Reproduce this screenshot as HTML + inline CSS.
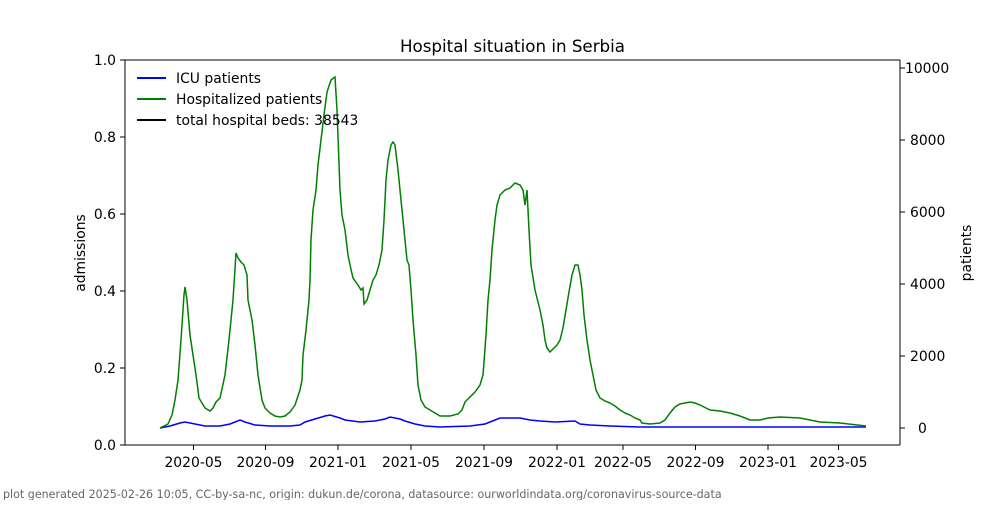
<!DOCTYPE html>
<html><head><meta charset="utf-8"><style>
body{margin:0;background:#fff}
svg text{font-family:"DejaVu Sans","Liberation Sans",sans-serif;fill:#000}
</style></head><body>
<svg width="1000" height="500" viewBox="0 0 1000 500" xmlns="http://www.w3.org/2000/svg">
<rect width="1000" height="500" fill="#fff"/>
<text x="512.5" y="52" font-size="16.7" text-anchor="middle">Hospital situation in Serbia</text>
<g stroke="#000" stroke-width="1">
<line x1="125" y1="445" x2="125" y2="60"/><line x1="900" y1="445" x2="900" y2="60"/>
<line x1="125" y1="445" x2="900" y2="445"/><line x1="125" y1="60" x2="900" y2="60"/>
<line x1="120" y1="445" x2="125" y2="445"/><line x1="120" y1="368" x2="125" y2="368"/><line x1="120" y1="291" x2="125" y2="291"/><line x1="120" y1="214" x2="125" y2="214"/><line x1="120" y1="137" x2="125" y2="137"/><line x1="120" y1="60" x2="125" y2="60"/>
<line x1="900" y1="428" x2="905" y2="428"/><line x1="900" y1="356" x2="905" y2="356"/><line x1="900" y1="284" x2="905" y2="284"/><line x1="900" y1="212" x2="905" y2="212"/><line x1="900" y1="140" x2="905" y2="140"/><line x1="900" y1="68" x2="905" y2="68"/>
<line x1="193.5" y1="445" x2="193.5" y2="450"/><line x1="265.5" y1="445" x2="265.5" y2="450"/><line x1="338" y1="445" x2="338" y2="450"/><line x1="411" y1="445" x2="411" y2="450"/><line x1="484" y1="445" x2="484" y2="450"/><line x1="557" y1="445" x2="557" y2="450"/><line x1="623" y1="445" x2="623" y2="450"/><line x1="695.5" y1="445" x2="695.5" y2="450"/><line x1="768" y1="445" x2="768" y2="450"/><line x1="838.5" y1="445" x2="838.5" y2="450"/>
</g>
<g font-size="13.9" text-anchor="end">
<text x="116" y="450">0.0</text><text x="116" y="373">0.2</text><text x="116" y="296">0.4</text><text x="116" y="219">0.6</text><text x="116" y="142">0.8</text><text x="116" y="65">1.0</text>
</g>
<g font-size="13.9" text-anchor="start">
<text x="918" y="433">0</text><text x="910" y="361">2000</text><text x="910" y="289">4000</text><text x="910" y="217">6000</text><text x="910" y="145">8000</text><text x="905" y="73">10000</text>
</g>
<g font-size="13.9" text-anchor="middle">
<text x="193.5" y="467">2020-05</text><text x="265.5" y="467">2020-09</text><text x="338" y="467">2021-01</text><text x="411" y="467">2021-05</text><text x="484" y="467">2021-09</text><text x="557" y="467">2022-01</text><text x="623" y="467">2022-05</text><text x="695.5" y="467">2022-09</text><text x="768" y="467">2023-01</text><text x="838.5" y="467">2023-05</text>
</g>
<text font-size="13.9" transform="translate(85,253) rotate(-90)" text-anchor="middle">admissions</text>
<text font-size="13.9" transform="translate(971,253) rotate(-90)" text-anchor="middle">patients</text>
<polyline fill="none" stroke="#0000ff" stroke-width="1.5" points="160,428 170,426 180,423 185,422 195,424 205,426 220,426 230,424 240,420 245,422 255,425 270,426 290,426 300,425 305,422 315,419 325,416 330,415 340,418 345,420 360,422 375,421 385,419 390,417 400,419 405,421 415,424 425,426 440,427 470,426 485,424 500,418 520,418 530,420 540,421 555,422 575,421 580,424 590,425 610,426 640,427 700,427 866,427"/>
<polyline fill="none" stroke="#008000" stroke-width="1.5" points="160,428 168,424 172,415 175,400 178,380 181,340 184,295 185,287 187,300 190,335 193,355 196,375 199,398 202,403 205,408 210,411 213,408 216,402 220,398 225,375 229,340 233,300 236,253 238,258 241,262 244,265 247,275 248,300 252,320 255,345 258,375 262,400 265,408 270,413 275,416 280,417 285,416 290,412 295,405 300,390 302,380 303,355 306,330 309,300 310,280 311,240 313,210 316,190 318,165 321,140 324,115 327,92 331,80 335,77 337,110 340,190 342,215 345,230 348,255 350,265 353,278 358,285 361,290 363,288 364,304 367,300 370,290 373,280 376,275 379,265 382,250 384,220 386,180 388,160 391,145 393,142 395,145 398,170 401,200 404,230 407,260 409,265 411,290 413,320 416,355 418,385 421,400 425,407 430,410 435,413 440,416 450,416 458,414 462,410 465,402 470,397 475,392 480,385 483,375 486,335 488,300 490,280 492,250 495,220 497,205 500,195 505,190 510,188 515,183 520,185 523,190 525,205 527,190 529,230 531,265 535,290 540,310 543,325 545,340 547,348 550,352 553,349 557,345 560,340 563,328 566,310 569,292 572,275 575,265 578,265 580,275 582,290 584,315 587,340 590,360 593,375 596,390 600,398 605,401 610,403 615,406 620,410 625,413 630,415 635,418 640,420 642,423 650,424 660,423 665,420 670,413 675,407 680,404 690,402 695,403 700,405 710,410 720,411 730,413 740,416 750,420 760,420 768,418 780,417 800,418 810,420 820,422 840,423 866,426"/>
<g stroke-width="2">
<line x1="137" y1="78" x2="166" y2="78" stroke="#0000ff"/>
<line x1="137" y1="99" x2="166" y2="99" stroke="#008000"/>
<line x1="137" y1="120" x2="166" y2="120" stroke="#000"/>
</g>
<g font-size="13.9">
<text x="176" y="83">ICU patients</text>
<text x="176" y="104">Hospitalized patients</text>
<text x="176" y="125">total hospital beds: 38543</text>
</g>
<text x="3" y="498" font-size="11.1" style="fill:#666">plot generated 2025-02-26 10:05, CC-by-sa-nc, origin: dukun.de/corona, datasource: ourworldindata.org/coronavirus-source-data</text>
</svg>
</body></html>
